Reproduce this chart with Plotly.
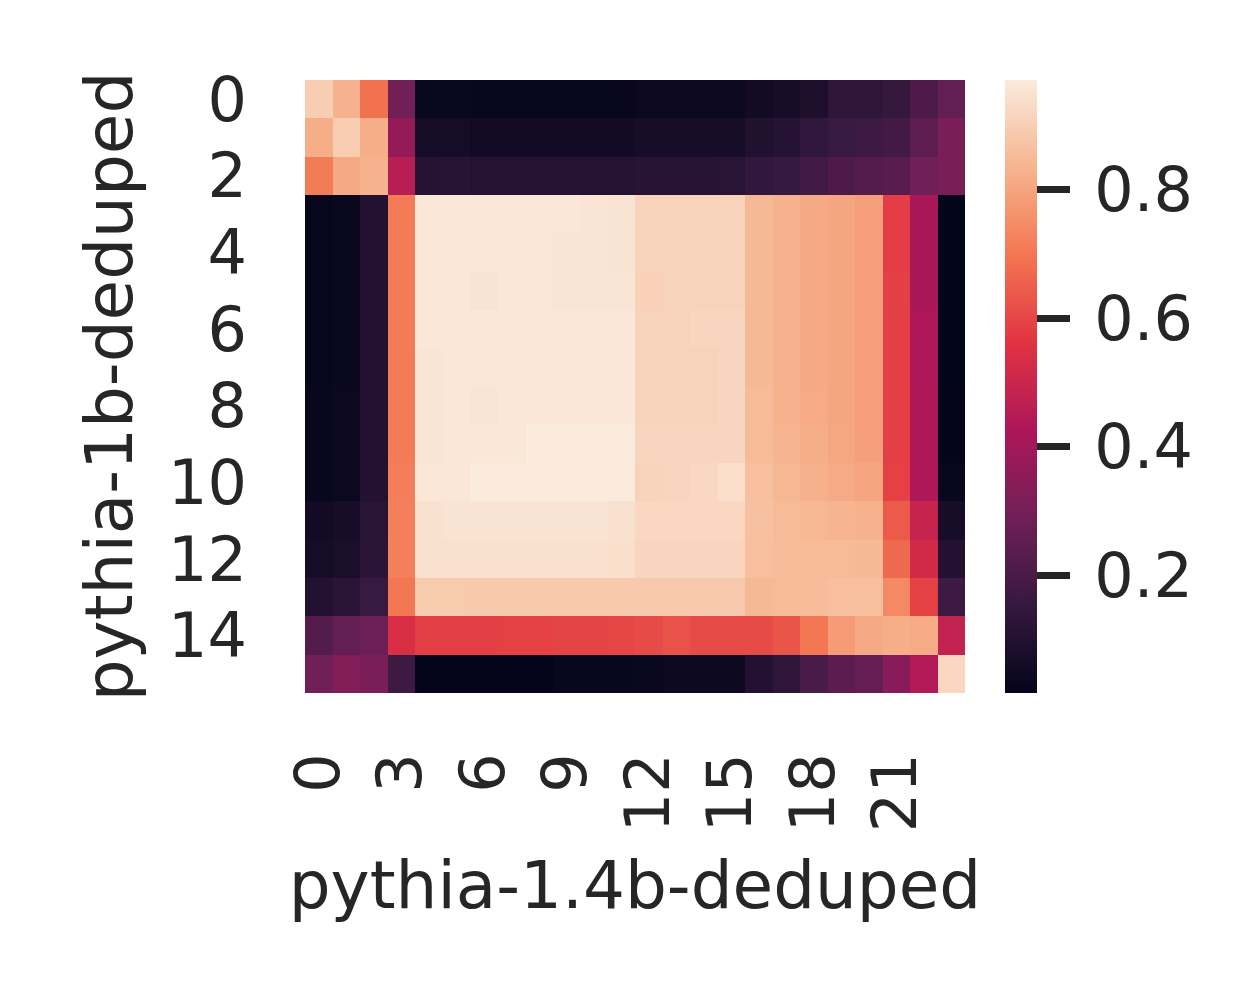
import plotly.graph_objects as go

# similarity of layer activations, rows = pythia-1b-deduped layers, cols = pythia-1.4b-deduped layers
rows_1b = list(range(16))
cols_14b = list(range(24))

sim_rows = [
    [0.895, 0.83, 0.69, 0.29, 0.035, 0.035, 0.03, 0.03, 0.03, 0.03, 0.03, 0.03, 0.04, 0.04, 0.04, 0.045, 0.06, 0.07, 0.09, 0.13, 0.135, 0.15, 0.21, 0.26],
    [0.82, 0.895, 0.82, 0.37, 0.065, 0.065, 0.06, 0.06, 0.06, 0.06, 0.06, 0.06, 0.07, 0.07, 0.07, 0.07, 0.095, 0.11, 0.14, 0.16, 0.17, 0.185, 0.245, 0.31],
    [0.71, 0.81, 0.83, 0.455, 0.11, 0.115, 0.105, 0.105, 0.105, 0.105, 0.105, 0.105, 0.115, 0.115, 0.115, 0.12, 0.14, 0.155, 0.18, 0.21, 0.225, 0.235, 0.29, 0.31],
    [0.027, 0.035, 0.10, 0.71, 0.96, 0.96, 0.96, 0.96, 0.96, 0.96, 0.955, 0.95, 0.91, 0.91, 0.91, 0.91, 0.845, 0.83, 0.81, 0.80, 0.785, 0.58, 0.42, 0.017],
    [0.027, 0.035, 0.10, 0.71, 0.96, 0.96, 0.96, 0.96, 0.96, 0.955, 0.955, 0.95, 0.91, 0.91, 0.91, 0.91, 0.845, 0.83, 0.81, 0.80, 0.785, 0.58, 0.42, 0.017],
    [0.027, 0.035, 0.10, 0.71, 0.96, 0.96, 0.95, 0.96, 0.96, 0.955, 0.955, 0.955, 0.905, 0.91, 0.91, 0.91, 0.845, 0.83, 0.81, 0.80, 0.785, 0.585, 0.42, 0.017],
    [0.027, 0.035, 0.10, 0.71, 0.96, 0.96, 0.96, 0.96, 0.96, 0.96, 0.96, 0.96, 0.91, 0.91, 0.915, 0.915, 0.845, 0.83, 0.81, 0.80, 0.785, 0.585, 0.425, 0.018],
    [0.027, 0.035, 0.10, 0.71, 0.955, 0.96, 0.96, 0.96, 0.96, 0.96, 0.96, 0.96, 0.91, 0.91, 0.91, 0.915, 0.845, 0.83, 0.81, 0.80, 0.785, 0.585, 0.425, 0.018],
    [0.03, 0.04, 0.10, 0.71, 0.955, 0.96, 0.955, 0.96, 0.96, 0.96, 0.96, 0.96, 0.91, 0.91, 0.91, 0.915, 0.85, 0.83, 0.815, 0.80, 0.785, 0.585, 0.43, 0.02],
    [0.03, 0.04, 0.10, 0.71, 0.955, 0.96, 0.96, 0.96, 0.97, 0.97, 0.97, 0.97, 0.915, 0.915, 0.915, 0.915, 0.85, 0.835, 0.82, 0.805, 0.79, 0.585, 0.43, 0.02],
    [0.03, 0.04, 0.10, 0.715, 0.96, 0.96, 0.97, 0.97, 0.97, 0.97, 0.97, 0.97, 0.91, 0.915, 0.92, 0.94, 0.86, 0.84, 0.825, 0.815, 0.80, 0.59, 0.43, 0.03],
    [0.06, 0.07, 0.12, 0.72, 0.945, 0.95, 0.95, 0.95, 0.95, 0.95, 0.95, 0.945, 0.92, 0.92, 0.92, 0.92, 0.865, 0.85, 0.84, 0.835, 0.83, 0.64, 0.49, 0.07],
    [0.065, 0.08, 0.125, 0.72, 0.945, 0.945, 0.945, 0.945, 0.945, 0.945, 0.945, 0.94, 0.915, 0.915, 0.915, 0.915, 0.86, 0.855, 0.85, 0.85, 0.845, 0.67, 0.52, 0.10],
    [0.10, 0.12, 0.16, 0.70, 0.89, 0.89, 0.885, 0.885, 0.885, 0.885, 0.885, 0.885, 0.885, 0.885, 0.885, 0.885, 0.845, 0.85, 0.855, 0.86, 0.86, 0.74, 0.59, 0.17],
    [0.225, 0.26, 0.28, 0.54, 0.585, 0.585, 0.585, 0.59, 0.59, 0.595, 0.595, 0.60, 0.61, 0.625, 0.61, 0.61, 0.61, 0.63, 0.70, 0.78, 0.81, 0.82, 0.815, 0.48],
    [0.29, 0.33, 0.31, 0.17, 0.02, 0.02, 0.02, 0.02, 0.02, 0.028, 0.028, 0.03, 0.035, 0.045, 0.045, 0.045, 0.10, 0.13, 0.20, 0.24, 0.265, 0.34, 0.44, 0.92],
]

x_ticks = [0, 3, 6, 9, 12, 15, 18, 21]
y_ticks = [0, 2, 4, 6, 8, 10, 12, 14]
cbar_ticks = [0.2, 0.4, 0.6, 0.8]

# seaborn "rocket"
rocket = [
    [0.0, '#03051a'],
    [0.071, '#1c0f2c'],
    [0.143, '#35193e'],
    [0.286, '#701f57'],
    [0.429, '#ad1759'],
    [0.571, '#e13342'],
    [0.714, '#f37651'],
    [0.857, '#f6b48f'],
    [1.0, '#faebdd'],
]

TXT = '#262626'
FONT = 'DejaVu Sans'

fig = go.Figure()
fig.add_trace(go.Heatmap(
    z=sim_rows, x=cols_14b, y=rows_1b,
    colorscale=rocket,
    xgap=0, ygap=0,
    colorbar=dict(
        x=1.0606, xanchor='left', xpad=0,
        y=0.5, yanchor='middle', len=1, lenmode='fraction', ypad=0,
        thickness=32, outlinewidth=0,
        # thin space pushes labels away from the tick marks a bit
        tickvals=cbar_ticks, ticktext=['\u2009' + f'{v:.1f}' for v in cbar_ticks],
        ticks='outside', ticklen=33, tickwidth=7, tickcolor=TXT,
        tickfont=dict(family=FONT, size=62, color=TXT),
    ),
))

# page body adds 8px, margins compensate
fig.update_layout(
    width=1250, height=1000,
    margin=dict(l=297, r=293, t=72, b=315),
    paper_bgcolor='white', plot_bgcolor='white',
    font=dict(family=FONT, size=62, color=TXT),
    xaxis=dict(
        tickvals=x_ticks, ticktext=[str(v) for v in x_ticks],
        tickangle=-90, ticks='', showgrid=False, zeroline=False, showline=False,
        ticklabelstandoff=47,
        range=[-0.5, 23.5],
        title=dict(text='pythia-1.4b-deduped', standoff=30, font=dict(size=66)),
        tickfont=dict(size=62),
    ),
    yaxis=dict(
        tickvals=y_ticks, ticktext=[str(v) for v in y_ticks],
        ticks='', showgrid=False, zeroline=False, showline=False,
        ticklabelstandoff=57,
        range=[15.5, -0.5],
        title=dict(text='pythia-1b-deduped', standoff=13, font=dict(size=66)),
        tickfont=dict(size=62),
    ),
)

fig.write_html("out.html")
